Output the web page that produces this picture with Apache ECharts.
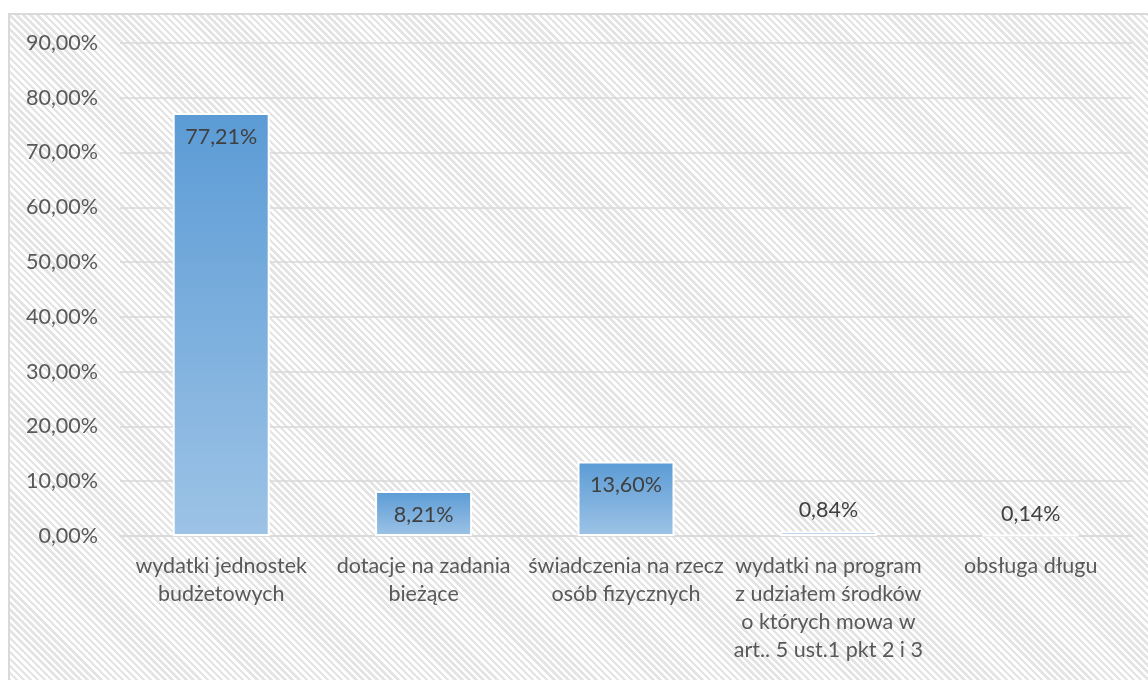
<!DOCTYPE html>
<html>
<head>
<meta charset="utf-8">
<script src="https://cdn.jsdelivr.net/npm/echarts@6/dist/echarts.min.js"></script>
<style>
  html, body { margin: 0; padding: 0; width: 1148px; height: 680px; overflow: hidden; background: #fff; }
  #frame {
    position: absolute; left: 8px; top: 13px; width: 1200px; height: 720px;
    border: 2px solid #d9d9d9;
    background: repeating-linear-gradient(45deg, #fff 0px, #fff 2.5px, #e4e4e4 2.5px, #e4e4e4 5px);
  }
  #chart { position: absolute; left: 0; top: 0; width: 1148px; height: 680px; }
</style>
</head>
<body>
<div id="frame"></div>
<div id="chart"></div>
<script>
// kategorie wydatków
const categories = [
  'wydatki jednostek\nbudżetowych',
  'dotacje na zadania\nbieżące',
  'świadczenia na rzecz\nosób fizycznych',
  'wydatki na program\nz udziałem środków\no których mowa w\nart.. 5 ust.1 pkt 2 i 3',
  'obsługa długu'
]
// udział w %
const shares = [77.21, 8.21, 13.60, 0.84, 0.14]
const yMax = 90
const yStep = 10

const fmt = v => v.toFixed(2).replace('.', ',') + '%'
const textFont = 'Lato'

const chart = echarts.init(document.getElementById('chart'))
chart.setOption({
  backgroundColor: 'transparent',
  animation: false,
  grid: { left: 120, top: 43, width: 1012, height: 493 },
  xAxis: {
    type: 'category',
    data: categories,
    axisLine: { lineStyle: { color: '#d9d9d9', width: 1.5 } },
    axisTick: { show: false },
    axisLabel: {
      interval: 0,
      color: '#595959',
      fontFamily: textFont,
      fontSize: 21.5,
      lineHeight: 28,
      margin: 16
    }
  },
  yAxis: {
    type: 'value',
    min: 0,
    max: yMax,
    interval: yStep,
    axisLine: { show: false },
    axisTick: { show: false },
    splitLine: { lineStyle: { color: '#d9d9d9', width: 1.5 } },
    axisLabel: {
      color: '#595959',
      fontFamily: textFont,
      fontSize: 21.5,
      margin: 22,
      formatter: v => fmt(v)
    }
  },
  series: [{
    type: 'bar',
    barWidth: 97,
    data: shares.map(v => ({
      value: v,
      label: { position: v > 5 ? 'insideTop' : 'top', distance: v > 5 ? 13 : 10 }
    })),
    itemStyle: {
      borderColor: '#fff',
      borderWidth: 2,
      color: new echarts.graphic.LinearGradient(0, 0, 0, 1, [
        { offset: 0, color: '#5b9bd5' },
        { offset: 1, color: '#9dc3e6' }
      ])
    },
    label: {
      show: true,
      color: '#404040',
      fontFamily: textFont,
      fontSize: 21.5,
      formatter: p => fmt(p.value)
    }
  }]
})
</script>
</body>
</html>
